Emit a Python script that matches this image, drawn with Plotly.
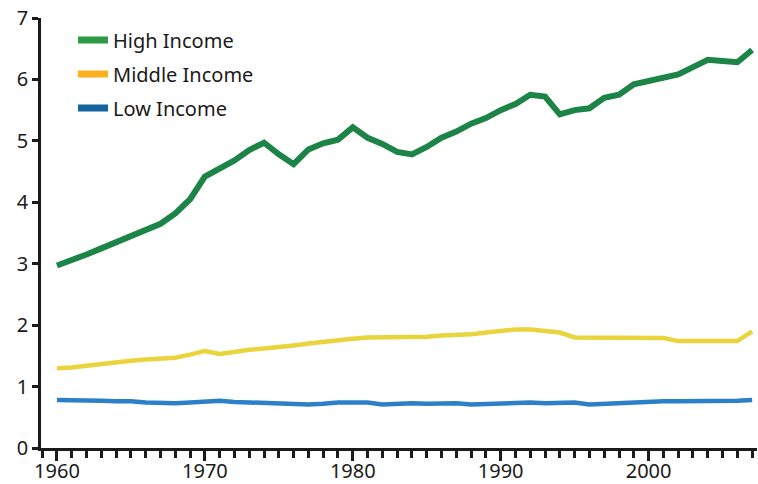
import plotly.graph_objects as go

years = list(range(1960, 2008))

high_income = [2.97, 3.05, 3.15, 3.25, 3.35, 3.47, 3.57, 3.65, 3.82, 4.05,
               4.42, 4.55, 4.68, 4.85, 4.97, 4.78, 4.62, 4.86, 4.96, 5.02,
               5.22, 5.05, 4.95, 4.82, 4.78, 4.90, 5.05, 5.15, 5.28, 5.37,
               5.50, 5.60, 5.75, 5.72, 5.43, 5.50, 5.53, 5.70, 5.75, 5.92,
               5.97, 6.02, 6.08, 6.20, 6.32, 6.30, 6.28, 6.48]

middle_income = [1.30, 1.31, 1.34, 1.37, 1.40, 1.42, 1.44, 1.45, 1.47, 1.52,
                 1.58, 1.53, 1.57, 1.60, 1.62, 1.64, 1.67, 1.70, 1.73, 1.76,
                 1.78, 1.80, 1.80, 1.80, 1.80, 1.81, 1.83, 1.84, 1.85, 1.88,
                 1.91, 1.93, 1.93, 1.91, 1.88, 1.80, 1.80, 1.79, 1.80, 1.80,
                 1.80, 1.79, 1.74, 1.74, 1.74, 1.74, 1.74, 1.90]

low_income = [0.78, 0.78, 0.77, 0.77, 0.76, 0.76, 0.74, 0.73, 0.73, 0.74,
              0.76, 0.77, 0.75, 0.74, 0.74, 0.73, 0.72, 0.71, 0.72, 0.74,
              0.74, 0.74, 0.71, 0.72, 0.73, 0.72, 0.72, 0.73, 0.71, 0.72,
              0.73, 0.73, 0.74, 0.73, 0.74, 0.74, 0.71, 0.72, 0.74, 0.75,
              0.75, 0.76, 0.76, 0.76, 0.77, 0.77, 0.77, 0.78]

series_names = ["High Income", "Middle Income", "Low Income"]
line_colors = ["#1c8447", "#e9d43c", "#2b80c9"]
legend_colors = ["#2e9a48", "#fbb21e", "#1565a0"]
line_widths = [6, 4.5, 4.5]

x_ticks = [1960, 1970, 1980, 1990, 2000]
y_ticks = [0, 1, 2, 3, 4, 5, 6, 7]

FONT = "Noto Sans"

fig = go.Figure()
data = [high_income, middle_income, low_income]
for name, vals, lc, lw in zip(series_names, data, line_colors, line_widths):
    fig.add_trace(go.Scatter(x=years, y=vals, mode="lines", name=name,
                             line=dict(color=lc, width=lw), showlegend=False,
                             hoverinfo="x+y+name"))

legend_ids = ["legend", "legend2", "legend3"]
legend_rows = [40, 74, 108]
for name, lc, lid in zip(series_names, legend_colors, legend_ids):
    fig.add_trace(go.Scatter(x=[None], y=[None], mode="lines", name=name,
                             line=dict(color=lc, width=7), legend=lid,
                             showlegend=True))

leg_common = dict(xref="container", yref="container", xanchor="left",
                  yanchor="middle", bgcolor="rgba(0,0,0,0)", borderwidth=0,
                  font=dict(family=FONT, size=20, color="#1a1a1a"),
                  itemwidth=30)
layout_legends = {}
for lid, row in zip(legend_ids, legend_rows):
    layout_legends[lid] = dict(x=73 / 758, y=1 - row / 484, **leg_common)

fig.update_layout(
    width=758, height=484,
    margin=dict(l=41, r=1, t=18, b=36, autoexpand=False),
    paper_bgcolor="white", plot_bgcolor="white",
    font=dict(family=FONT, size=20, color="#1a1a1a"),
    xaxis=dict(range=[1958.92, 2007.33], tickvals=x_ticks,
               showgrid=False, zeroline=False, showline=True,
               linecolor="#1a1a1a", linewidth=2.5, ticks="outside",
               ticklen=10, tickwidth=2.5, tickcolor="#1a1a1a",
               ticklabelstandoff=-7,
               minor=dict(dtick=1, ticks="outside", ticklen=7, tickwidth=2.5,
                          tickcolor="#1a1a1a", showgrid=False),
               tickfont=dict(family=FONT, size=20)),
    yaxis=dict(range=[0, 7], tickvals=y_ticks, showgrid=False,
               zeroline=False, showline=True, linecolor="#1a1a1a",
               linewidth=2.5, ticks="outside", ticklen=6, tickwidth=2.5,
               tickcolor="#1a1a1a", tickfont=dict(family=FONT, size=20)),
    **layout_legends,
)

fig.write_html("out.html",
               config={"displayModeBar": False},
               post_script="document.body.style.margin='0';"
                           "document.body.style.overflow='hidden';")
